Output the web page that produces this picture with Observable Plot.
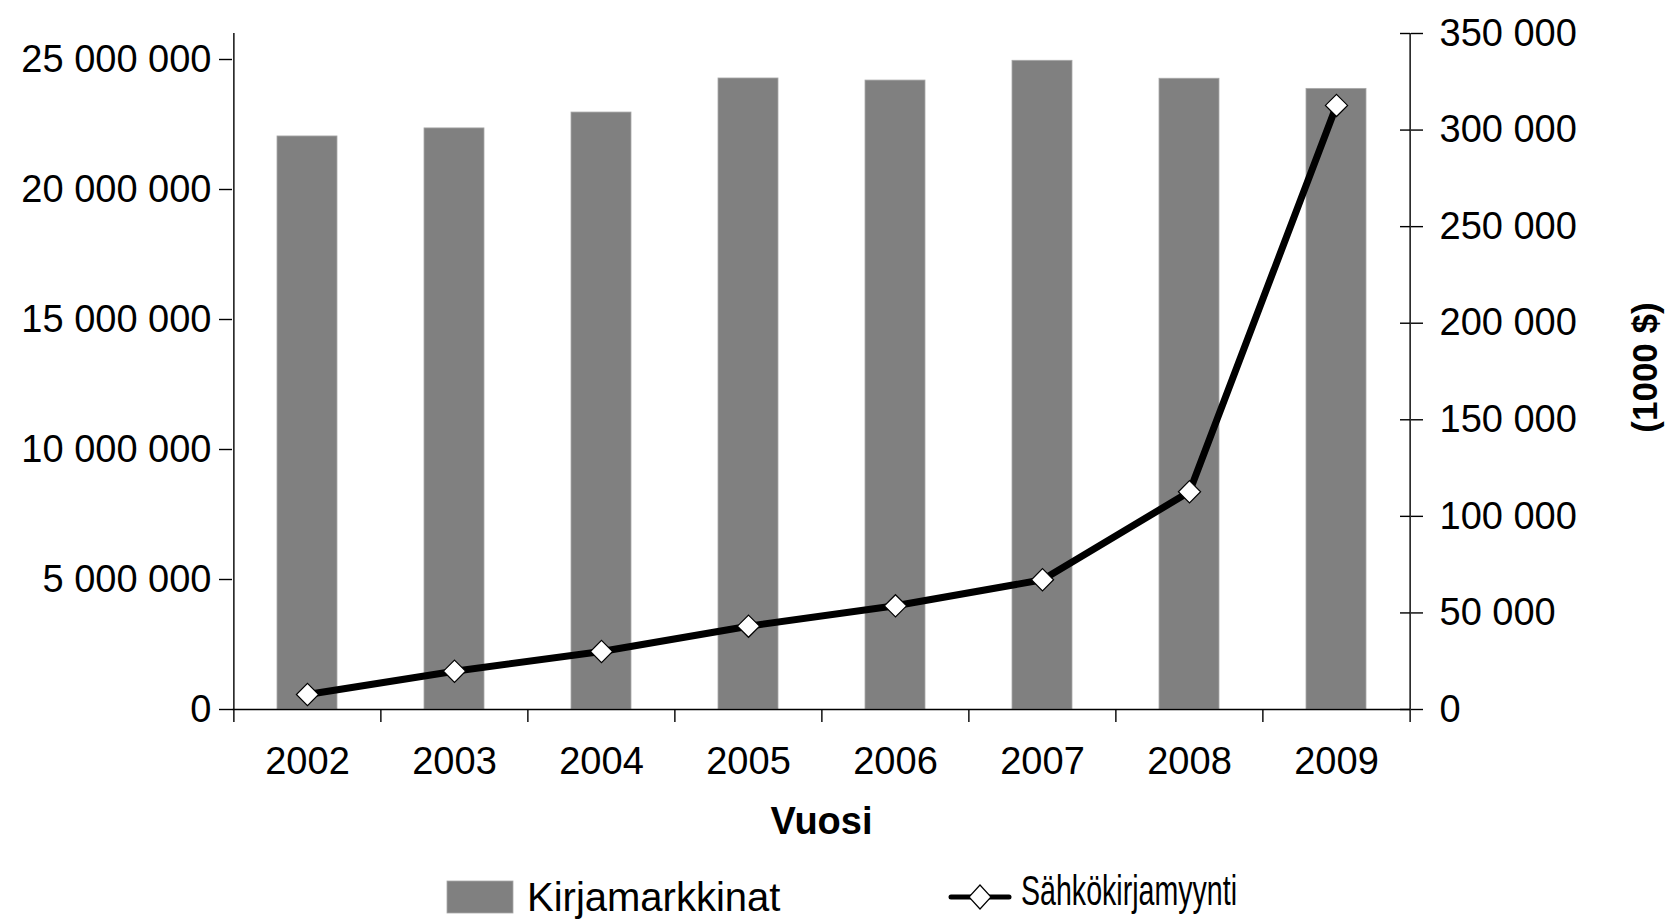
<!DOCTYPE html>
<html>
<head>
<meta charset="utf-8">
<script src="https://cdn.jsdelivr.net/npm/d3@7"></script>
<script src="https://cdn.jsdelivr.net/npm/@observablehq/plot@0.6"></script>
<style>
  html, body { margin: 0; padding: 0; background: #fff; }
  #chart { width: 1669px; }
  #legend { display: block; }
</style>
</head>
<body>
<div id="chart"></div>
<script>
// ---- data ----
const years = ["2002", "2003", "2004", "2005", "2006", "2007", "2008", "2009"];
const bookMarket = [22040000, 22350000, 22960000, 24270000, 24190000, 24950000, 24260000, 23870000];
const ebookSales = [7770, 19830, 30030, 43130, 53690, 67160, 112720, 312750];
const leftTicks = [0, 5000000, 10000000, 15000000, 20000000, 25000000];
const rightTicks = [0, 50000, 100000, 150000, 200000, 250000, 300000, 350000];
const xTitle = "Vuosi";
const rightTitle = "(1000 $)";
const barName = "Kirjamarkkinat";
const lineName = "Sähkökirjamyynti";

const W = 1669, H = 855;
const mL = 232, mR = 259, mT = 33, mB = 146;
const leftMax = 26000000, rightMax = 350000;
const k = leftMax / rightMax;
const frameW = W - mL - mR;
const step = frameW / years.length;

const data = years.map((y, i) => ({year: y, books: bookMarket[i], ebook: ebookSales[i]}));
const fmt = v => d3.format(",")(v).replace(/,/g, " ");
const font = "'Liberation Sans', Arial, Helvetica, sans-serif";

const plot = Plot.plot({
  width: W,
  height: H,
  marginLeft: mL,
  marginRight: mR,
  marginTop: mT,
  marginBottom: mB,
  style: {fontFamily: font, fontSize: "38px", color: "#000", background: "#fff"},
  x: {type: "band", domain: years, paddingInner: 0.593, paddingOuter: 0.2965},
  y: {domain: [0, leftMax]},
  marks: [
    Plot.barY(data, {x: "year", y: "books", fill: "#808080", stroke: "#a8a8a8", strokeWidth: 0.8}),
    // x axis baseline
    Plot.ruleY([0], {stroke: "#000", strokeWidth: 1.4}),
    // left axis line
    Plot.ruleX([years[0]], {dx: -step / 2, insetBottom: -13, stroke: "#000", strokeWidth: 1.4}),
    // right axis line
    Plot.ruleX([years[years.length - 1]], {dx: step / 2, insetBottom: -13, stroke: "#000", strokeWidth: 1.4}),
    // category separator ticks
    Plot.ruleX(years.slice(1), {dx: -step / 2, insetTop: H - mT - mB, insetBottom: -13, stroke: "#000", strokeWidth: 1.4}),
    // left axis
    Plot.axisY(leftTicks, {anchor: "left", tickSize: 13, tickPadding: 8, tickFormat: fmt, fontSize: 38, label: null, strokeWidth: 1.4}),
    // right axis (scaled values)
    Plot.axisY(rightTicks.map(v => v * k), {anchor: "right", tickSize: 12, tickPadding: 17, tickFormat: d => fmt(Math.round(d / k)), fontSize: 38, label: null, strokeWidth: 1.4}),
    Plot.tickY(rightTicks.map(v => v * k), {y: d => d, insetLeft: frameW - 10, stroke: "#000", strokeWidth: 1.4}),
    // x axis labels
    Plot.axisX({tickSize: 0, tickPadding: 38, fontSize: 38, label: null}),
    // line series
    Plot.line(data, {x: "year", y: d => d.ebook * k, stroke: "#000", strokeWidth: 7, strokeLinejoin: "round"}),
    Plot.dot(data, {x: "year", y: d => d.ebook * k, symbol: "diamond2", r: 10, fill: "#fff", stroke: "#000", strokeWidth: 1.2}),
    // titles
    Plot.text([xTitle], {frameAnchor: "bottom", dy: 112, text: d => d, fontWeight: "bold", fontSize: 38, lineAnchor: "middle", textAnchor: "middle"}),
    Plot.text([rightTitle], {frameAnchor: "right", dx: 235, dy: -4, text: d => d, rotate: -90, fontWeight: "bold", fontSize: 35, lineAnchor: "middle", textAnchor: "middle"})
  ]
});
document.getElementById("chart").appendChild(plot);

// ---- legend below the chart ----
const ns = "http://www.w3.org/2000/svg";
const leg = document.createElementNS(ns, "svg");
leg.setAttribute("id", "legend");
leg.setAttribute("width", W);
leg.setAttribute("height", 64);
leg.style.fontFamily = font;
function el(name, attrs, parent) {
  const e = document.createElementNS(ns, name);
  for (const a in attrs) e.setAttribute(a, attrs[a]);
  parent.appendChild(e);
  return e;
}
el("rect", {x: 447, y: 26, width: 66, height: 32, fill: "#808080", stroke: "#a8a8a8", "stroke-width": 0.8}, leg);
const t1 = el("text", {x: 527, y: 56, "font-size": 40, fill: "#000"}, leg);
t1.textContent = barName;
el("line", {x1: 951, x2: 1009, y1: 42, y2: 42, stroke: "#000", "stroke-width": 5, "stroke-linecap": "round"}, leg);
el("path", {d: "M980,30 L991,42 L980,54 L969,42 Z", fill: "#fff", stroke: "#000", "stroke-width": 1.2}, leg);
const t2 = el("text", {x: 1021, y: 50, "font-size": 42, fill: "#000", textLength: 216, lengthAdjust: "spacingAndGlyphs"}, leg);
t2.textContent = lineName;
document.getElementById("chart").appendChild(leg);
</script>
</body>
</html>
